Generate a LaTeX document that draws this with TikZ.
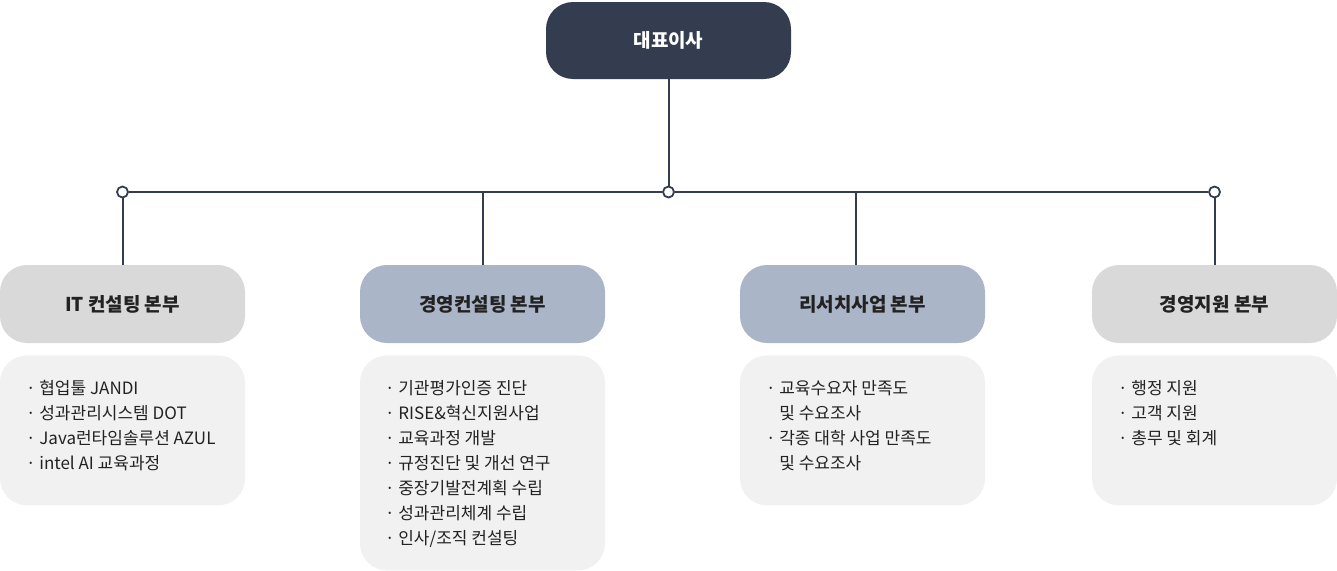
\documentclass[tikz,border=0pt]{standalone}
\usepackage{fontspec}
\setmainfont{Noto Sans CJK KR}
\usetikzlibrary{positioning,calc}
\definecolor{navy}{HTML}{343D50}
\definecolor{boxgray}{HTML}{D9D9D9}
\definecolor{boxblue}{HTML}{AAB5C8}
\definecolor{listgray}{HTML}{F1F1F1}
\definecolor{inktext}{HTML}{222222}
\tikzset{x=1pt, y=-1pt, % one unit is one pixel of the chart, y runs down
        every node/.style={inner sep=0pt},
        ceobox/.style={ % top box
            rounded corners=27pt, fill=navy, text=white,
            minimum width=245pt, minimum height=77pt,
            font=\bfseries\fontsize{19}{22}\selectfont},
        deptbox/.style={ % one box for each division
            rounded corners=27pt, text=inktext,
            minimum width=245pt, minimum height=78pt,
            font=\bfseries\fontsize{19}{22}\selectfont},
        listbox/.style={ % pale box under a division
            rounded corners=27pt, fill=listgray,
            minimum width=245pt, minimum height=150pt},
        listtext/.style={anchor=north west, align=left, text=inktext,
            font=\fontsize{17}{25}\selectfont},
        wire/.style={draw=navy, line width=2pt},
        joint/.style={circle, draw=navy, fill=white, line width=1.8pt,
            minimum size=11pt}
        }
\begin{document}
\begin{tikzpicture}
    \useasboundingbox (0,0) rectangle (1337,570);

    \node[ceobox] (ceo) at (668.5,40.5) {대표이사};

    \node[deptbox, fill=boxgray] (it) at (122.5,304)  {IT 컨설팅 본부};
    \node[deptbox, fill=boxblue] (mc) at (482.5,304)  {경영컨설팅 본부};
    \node[deptbox, fill=boxblue] (rs) at (862.5,304)  {리서치사업 본부};
    \node[deptbox, fill=boxgray] (ms) at (1214.5,304) {경영지원 본부};

    \node[listbox, below=12pt of it] (itbox) {};
    \node[listbox, below=12pt of mc, minimum height=215pt] (mcbox) {};
    \node[listbox, below=12pt of rs] (rsbox) {};
    \node[listbox, below=12pt of ms] (msbox) {};

    \node[listtext] (itlist) at ($(itbox.north west)+(26,25)$)
        {· 협업툴 JANDI\\· 성과관리시스템 DOT\\· Java런타임솔루션 AZUL\\· intel AI 교육과정};
    \node[listtext] (mclist) at ($(mcbox.north west)+(25,25)$)
        {· 기관평가인증 진단\\· RISE\&혁신지원사업\\· 교육과정 개발\\· 규정진단 및 개선 연구\\
         · 중장기발전계획 수립\\· 성과관리체계 수립\\· 인사/조직 컨설팅};
    \node[listtext] (rslist) at ($(rsbox.north west)+(26,25)$)
        {· 교육수요자 만족도\\\phantom{· }및 수요조사\\· 각종 대학 사업 만족도\\\phantom{· }및 수요조사};
    \node[listtext] (mslist) at ($(msbox.north west)+(26,25)$)
        {· 행정 지원\\· 고객 지원\\· 총무 및 회계};

    % bus line and its joints
    \node[joint] (jl) at (122.5,192)  {};
    \node[joint] (jm) at (668.5,192)  {};
    \node[joint] (jr) at (1214.5,192) {};
    \coordinate (tmc) at (483,192);
    \coordinate (trs) at (856,192);

    \draw[wire] (ceo) -- (jm);
    \draw[wire] (jl) -- (jm);
    \draw[wire] (jm) -- (jr);
    \draw[wire] (jl) -- (it);
    \draw[wire] (tmc) -- (tmc |- mc.north);
    \draw[wire] (trs) -- (trs |- rs.north);
    \draw[wire] (jr) -- (ms);
\end{tikzpicture}
\end{document}
